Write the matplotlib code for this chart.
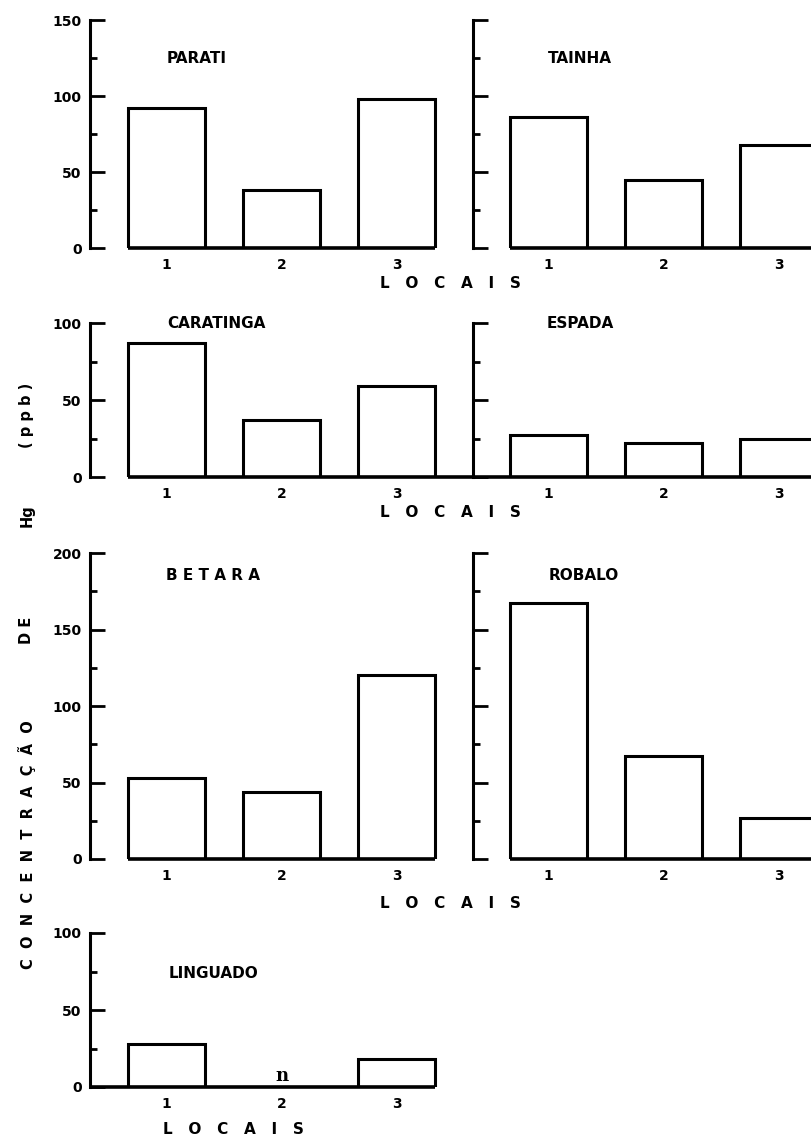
import numpy as np
import matplotlib
matplotlib.use('Agg')
import matplotlib.pyplot as plt

# mercury concentration (ppb) per fish species at the three sampling sites
locais = [1, 2, 3]
parati = [92, 38, 98]
tainha = [86, 45, 68]
caratinga = [87, 37, 59]
espada = [27, 22, 25]
betara = [53, 44, 120]
robalo = [167, 67, 27]
linguado = [28, 0, 18]

plt.rcParams['font.family'] = 'DejaVu Sans'
plt.rcParams['font.weight'] = 'bold'

W, H = 812, 1140
fig = plt.figure(figsize=(W / 100, H / 100), dpi=100)


def add_ax(left, top, right, bottom):
    # pixel box -> figure fractions
    return fig.add_axes([left / W, 1 - bottom / H, (right - left) / W, (bottom - top) / H])


LEFT_X = (0.335, 3.665)
RIGHT_X = (0.343, 3.291)
BW = 0.67


def panel(ax, vals, ymax, title, tx, ty, labels, xlim, base):
    ax.bar(locais, vals, width=BW, color='white', edgecolor='black', linewidth=2.2)
    ax.set_xlim(*xlim)
    ax.set_ylim(0, ymax)
    for s in ['top', 'right', 'bottom']:
        ax.spines[s].set_visible(False)
    ax.spines['left'].set_linewidth(2.2)
    ax.set_yticks(np.arange(0, ymax + 1, 50))
    ax.set_yticks(np.arange(25, ymax, 50), minor=True)
    ax.tick_params(axis='y', which='major', direction='in', length=11, width=2,
                   labelsize=10, pad=6)
    ax.tick_params(axis='y', which='minor', direction='in', length=5, width=2)
    if not labels:
        ax.set_yticklabels([])
    ax.set_xticks(locais)
    ax.tick_params(axis='x', length=0, labelsize=10, pad=7)
    ax.plot(base, [0, 0], color='black', lw=2.6, clip_on=False, solid_capstyle='butt')
    ax.text(tx, ty, title, transform=ax.transAxes, fontsize=11, fontweight='bold',
            ha='left', va='center')


# row 1
ax = add_ax(90, 20, 473, 248)
panel(ax, parati, 150, 'PARATI', 0.201, 0.833, True, LEFT_X, [1 - BW / 2, 3 + BW / 2])
ax = add_ax(473, 20, 812, 248)
panel(ax, tainha, 150, 'TAINHA', 0.221, 0.833, False, RIGHT_X, [1 - BW / 2, RIGHT_X[1]])

# row 2
ax = add_ax(90, 323, 473, 477)
panel(ax, caratinga, 100, 'CARATINGA', 0.201, 1.0, True, LEFT_X, [1 - BW / 2, LEFT_X[1]])
ax = add_ax(473, 323, 812, 477)
panel(ax, espada, 100, 'ESPADA', 0.218, 1.0, False, RIGHT_X, list(RIGHT_X))

# row 3
ax = add_ax(90, 553, 473, 859)
panel(ax, betara, 200, 'B E T A R A', 0.198, 0.928, True, LEFT_X, [1 - BW / 2, 3 + BW / 2])
ax = add_ax(473, 553, 812, 859)
panel(ax, robalo, 200, 'ROBALO', 0.224, 0.925, False, RIGHT_X, [1 - BW / 2, RIGHT_X[1]])

# row 4
ax = add_ax(90, 933, 473, 1087)
panel(ax, linguado, 100, 'LINGUADO', 0.204, 0.74, True, LEFT_X, [LEFT_X[0], 3 + BW / 2])
ax.text(2, 1.5, 'n', ha='center', va='bottom', family='DejaVu Serif', fontsize=13,
        fontweight='bold')

# x axis titles
for x, y in [(450, 283), (450, 512), (450, 903), (233, 1130)]:
    fig.text(x / W, 1 - y / H, 'L   O   C   A   I   S', ha='center', va='center',
             fontsize=11, fontweight='bold')

# y axis title, spread along the left edge
for txt, y in [('C  O  N  C  E  N  T  R  A  Ç  Ã  O', 845), ('D E', 630),
               ('Hg', 516), ('( p p b )', 415)]:
    fig.text(27 / W, 1 - y / H, txt, rotation=90, ha='center', va='center',
             fontsize=10.5, fontweight='bold')

fig.savefig('out.png', dpi=100)
